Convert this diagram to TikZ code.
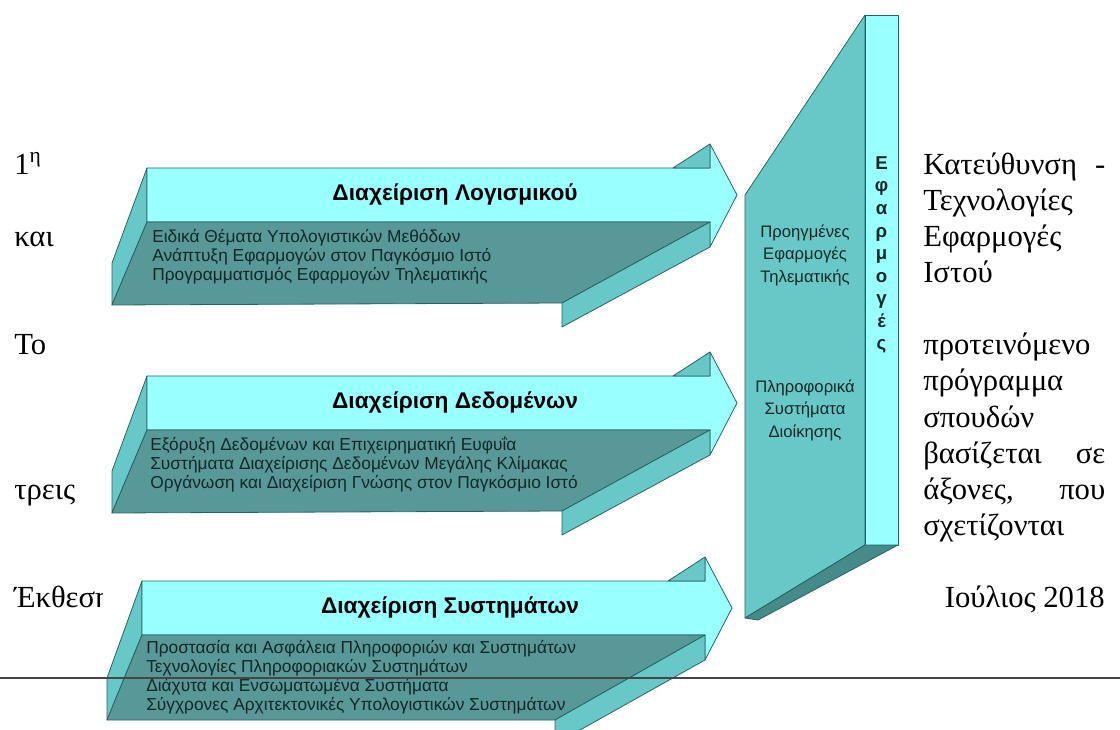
\documentclass[tikz,border=0pt]{standalone}
\usepackage{fontspec}
\setmainfont{Liberation Serif}
\newfontfamily\arialfont{Liberation Sans}
\usetikzlibrary{positioning}
\definecolor{topcyan}{RGB}{153,255,255}
\definecolor{sideteal}{RGB}{104,200,200}
\definecolor{frontteal}{RGB}{88,152,152}
\definecolor{baseteal}{RGB}{70,138,138}
\definecolor{edgeteal}{RGB}{38,100,100}
\definecolor{itemink}{RGB}{20,40,40}
\definecolor{ruleink}{RGB}{70,70,70}
\begin{document}
\begin{tikzpicture}[x=0.75pt,y=0.75pt,yscale=-1,xscale=1,
  edge/.style={draw=edgeteal,line width=0.6pt,line join=round},
  topface/.style={edge,fill=topcyan},
  sideface/.style={edge,fill=sideteal},
  frontface/.style={edge,fill=frontteal},
  baseface/.style={edge,fill=baseteal},
  bodytext/.style={inner sep=0pt,anchor=base west,font=\fontsize{23}{27}\selectfont},
  titletext/.style={inner sep=0pt,font=\arialfont\bfseries\fontsize{17}{20}\selectfont},
  itemtext/.style={inner sep=0pt,align=left,anchor=west,text=itemink,font=\arialfont\fontsize{13}{14.25}\selectfont},
  paneltext/.style={inner sep=0pt,align=center,text=itemink,font=\arialfont\fontsize{12.5}{16.9}\selectfont},
  lettertext/.style={inner sep=0pt,align=center,text=itemink,font=\arialfont\bfseries\fontsize{14}{16.9}\selectfont}]
\useasboundingbox (0,0) rectangle (1120,730);
% Text Node
\node[bodytext] (lone) at (14,175) {1\textsuperscript{η}};
\node[bodytext] (lkai) at (14,247) {και};
\node[bodytext] (lto) at (14,355) {Το};
\node[bodytext] (ltreis) at (14,499) {τρεις};
\node[bodytext] (lekth) at (14,607) {Έκθεση};
% Text Node
\node[bodytext] (rkat) at (923,175) {\hbox to 136.5pt{Κατεύθυνση\hfill -}};
\node[bodytext] (rtex) at (923,211) {Τεχνολογίες};
\node[bodytext] (refa) at (923,247) {Εφαρμογές};
\node[bodytext] (rist) at (923,283) {Ιστού};
\node[bodytext] (rpro) at (923,355) {προτεινόμενο};
\node[bodytext] (rprog) at (923,391) {πρόγραμμα};
\node[bodytext] (rspo) at (923,427) {σπουδών};
\node[bodytext] (rbas) at (923,463) {\hbox to 136.5pt{βασίζεται\hfill σε}};
\node[bodytext] (raxo) at (923,499) {\hbox to 136.5pt{άξονες,\hfill που}};
\node[bodytext] (rsxe) at (923,535) {σχετίζονται};
\node[bodytext,anchor=base east] (rdate) at (1105,607) {Ιούλιος 2018};
%Shape: Picture background
\fill[white] (103,0) rectangle (905,730);

%Shape: Arrow Software
\draw[sideface] (147,168) -- (147,222) -- (112,305) -- (112,263) -- cycle;
\draw[topface] (147,168) -- (710,168) -- (710,144) -- (737,195) -- (710,247) -- (710,222) -- (147,222) -- cycle;
\draw[sideface] (673,168) -- (710,144) -- (710,168) -- cycle;
\draw[frontface] (147,222) -- (710,222) -- (562,303) -- (112,305) -- cycle;
\draw[sideface] (710,222) -- (710,247) -- (562,327) -- (562,303) -- cycle;
% Text Node
\node[titletext] (tsoft) at (455,195) {Διαχείριση Λογισμικού};
\node[itemtext] (isoft) at (152,257) {Ειδικά Θέματα Υπολογιστικών Μεθόδων\\Ανάπτυξη Εφαρμογών στον Παγκόσμιο Ιστό\\Προγραμματισμός Εφαρμογών Τηλεματικής};

%Shape: Arrow Data
\draw[sideface] (147,376) -- (147,430) -- (112,513) -- (112,471) -- cycle;
\draw[topface] (147,376) -- (710,376) -- (710,352) -- (737,403) -- (710,455) -- (710,430) -- (147,430) -- cycle;
\draw[sideface] (673,376) -- (710,352) -- (710,376) -- cycle;
\draw[frontface] (147,430) -- (710,430) -- (562,511) -- (112,513) -- cycle;
\draw[sideface] (710,430) -- (710,455) -- (562,535) -- (562,511) -- cycle;
% Text Node
\node[titletext] (tdata) at (455,403) {Διαχείριση Δεδομένων};
\node[itemtext] (idata) at (150,465) {Εξόρυξη Δεδομένων και Επιχειρηματική Ευφυΐα\\Συστήματα Διαχείρισης Δεδομένων Μεγάλης Κλίμακας\\Οργάνωση και Διαχείριση Γνώσης στον Παγκόσμιο Ιστό};

%Shape: Arrow Systems
\draw[sideface] (142,581) -- (142,635) -- (107,720) -- (107,678) -- cycle;
\draw[topface] (142,581) -- (705,581) -- (705,557) -- (732,608) -- (705,660) -- (705,635) -- (142,635) -- cycle;
\draw[sideface] (668,581) -- (705,557) -- (705,581) -- cycle;
\draw[frontface] (142,635) -- (705,635) -- (555,720) -- (107,720) -- cycle;
\draw[sideface] (705,635) -- (705,660) -- (555,744) -- (555,720) -- cycle;
% Text Node
\node[titletext] (tsys) at (450,608) {Διαχείριση Συστημάτων};
\node[itemtext] (isys) at (146,677) {Προστασία και Ασφάλεια Πληροφοριών και Συστημάτων\\Τεχνολογίες Πληροφοριακών Συστημάτων\\Διάχυτα και Ενσωματωμένα Συστήματα\\Σύγχρονες Αρχιτεκτονικές Υπολογιστικών Συστημάτων};

%Shape: Panel Applications
\draw[sideface] (745,195) -- (865,15) -- (865,545) -- (745,618) -- cycle;
\draw[topface] (865,15) rectangle (898,545);
\draw[baseface] (745,618) -- (865,545) -- (898,545) -- (758,620) -- cycle;
% Text Node
\node[lettertext] (tapp) at (881.5,255) {Ε\\φ\\α\\ρ\\μ\\ο\\γ\\έ\\ς};
\node[paneltext] (ptele) at (805,255) {Προηγμένες\\Εφαρμογές\\Τηλεματικής};
\node[paneltext] (pmis) at (805,410) {Πληροφορικά\\Συστήματα\\Διοίκησης};

%Straight Lines [id:footer rule]
\draw[ruleink,line width=1.1pt] (0,678) -- (1120,678);
\end{tikzpicture}
\end{document}
